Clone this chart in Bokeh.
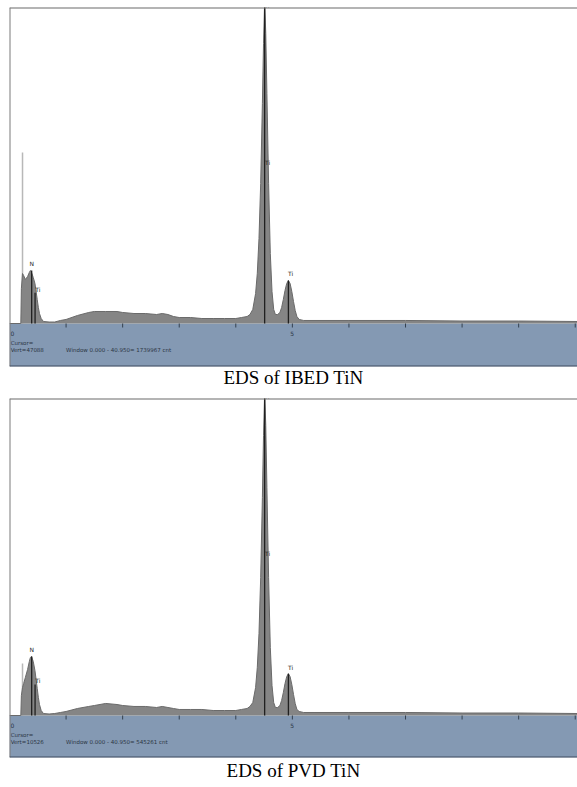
from bokeh.plotting import figure
from bokeh.layouts import column
from bokeh.models import Range1d, Span, Title, ColumnDataSource
from bokeh.core.properties import value
from bokeh.embed import file_html
from bokeh.resources import INLINE

# ---- spectrum data: energy (keV) and counts per channel ----
energy_kev = [0.00, 0.20, 0.21, 0.23, 0.25, 0.28, 0.32, 0.35, 0.37, 0.39, 0.42, 0.45, 0.47, 0.49,
              0.51, 0.53, 0.56, 0.60, 0.70, 0.80, 0.90, 1.00, 1.20, 1.40, 1.50, 1.70, 1.90, 2.00,
              2.20, 2.40, 2.60, 2.70, 2.80, 2.90, 3.00, 3.20, 3.40, 3.60, 3.80, 4.00, 4.10, 4.20,
              4.25, 4.30, 4.35, 4.38, 4.41, 4.44, 4.47, 4.49, 4.51, 4.53, 4.55, 4.58, 4.61, 4.64,
              4.67, 4.70, 4.74, 4.78, 4.81, 4.84, 4.87, 4.90, 4.93, 4.96, 4.99, 5.02, 5.05, 5.08,
              5.12, 5.20, 5.40, 6.00, 7.00, 8.00, 9.00, 10.04]

counts_ibed = [0, 0, 5200, 7450, 7150, 6560, 7000, 7600, 7900, 7600, 6850, 5960, 4770, 3580,
               2380, 1490, 745, 300, 220, 220, 450, 600, 1190, 1640, 1790, 1790, 1790, 1640,
               1490, 1490, 1340, 1490, 1340, 1040, 890, 890, 745, 745, 745, 745, 890, 1040,
               1340, 2090, 4470, 7450, 12670, 20860, 32780, 41720, 47980, 43210, 34270, 20860, 10430, 4770,
               2090, 1340, 1340, 1640, 2380, 3580, 4920, 5960, 6410, 5960, 4770, 3280, 1940, 1040,
               600, 450, 450, 450, 450, 370, 370, 300]

counts_pvd = [0, 0, 664, 930, 1060, 1260, 1530, 1790, 1930, 1960, 1790, 1490, 1200, 900,
              600, 365, 166, 66, 50, 66, 100, 133, 232, 300, 332, 400, 365, 332,
              300, 300, 266, 300, 266, 232, 200, 200, 200, 166, 166, 166, 200, 232,
              300, 430, 930, 1590, 2720, 4580, 7240, 9300, 10720, 9630, 7570, 4580, 2260, 1000,
              430, 266, 266, 332, 500, 760, 1060, 1290, 1390, 1290, 1030, 700, 400, 200,
              133, 100, 100, 100, 100, 83, 83, 66]

# vertical full scale of each display (counts)
full_scale_ibed = 47088
full_scale_pvd = 10526
total_ibed = 1739967
total_pvd = 545261

# line markers (keV) and their drawn heights
marker_kev = [0.392, 0.452, 4.51, 4.93]
marker_names = ["N", "Ti", "Ti", "Ti"]
marker_h_ibed = [7900, 4600, 47088, 6410]
marker_h_pvd = [1960, 1030, 10526, 1390]

# low-energy noise marker
noise_kev = 0.23
noise_h_ibed = 25480
noise_h_pvd = 1730

tick_kev = [1, 2, 3, 4, 5, 6, 7, 8, 9, 10]
tick_labels_kev = [0, 5]

X_MAX = 10.04
FRAME_H = 359
BAND = "#8499b3"
FILL = "#858585"
SMALL = value("DejaVu Sans")


def spectrum_panel(counts, full_scale, marker_h, noise_h, total, px_below, caption,
                   top_pad, bottom_pad, cap_align):
    px_above = FRAME_H - px_below
    y_start = -full_scale * px_below / px_above
    per_px = (full_scale - y_start) / FRAME_H

    p = figure(width=577, height=top_pad + FRAME_H + bottom_pad,
               x_range=Range1d(0, X_MAX), y_range=Range1d(y_start, full_scale),
               output_backend="svg", toolbar_location=None,
               min_border_left=9, min_border_right=0,
               min_border_top=top_pad, min_border_bottom=bottom_pad)
    p.axis.visible = False
    p.grid.visible = False
    p.outline_line_color = None
    p.background_fill_color = "white"
    p.border_fill_color = "white"

    # status band under the spectrum
    p.quad(left=0, right=X_MAX, bottom=y_start, top=0, fill_color=BAND, line_color=None)

    # low energy noise line
    p.segment(x0=[noise_kev], y0=[0], x1=[noise_kev], y1=[noise_h], line_color="#b8b8b8", line_width=1.5)

    # spectrum
    src = ColumnDataSource(dict(e=energy_kev, c=counts))
    p.varea(x="e", y1=0, y2="c", source=src, fill_color=FILL)
    p.line(x="e", y="c", source=src, line_color="#6a6a6a", line_width=1)

    # element markers
    p.segment(x0=marker_kev, y0=[0] * 4, x1=marker_kev, y1=marker_h, line_color="#202020", line_width=1.3)
    lab_x = [marker_kev[0], marker_kev[1] + 0.05, marker_kev[2] + 0.04, marker_kev[2] + 0.05, marker_kev[3] + 0.04]
    lab_y = [marker_h[0] + 3 * per_px, marker_h[1], full_scale - 1 * per_px, full_scale * 0.5, marker_h[3] + 3 * per_px]
    lab_t = [marker_names[0], marker_names[1], marker_names[2], marker_names[2], marker_names[3]]
    p.text(x=lab_x, y=lab_y, text=lab_t, text_font=SMALL, text_font_size="6px",
           text_color="#222222", text_align="center", text_baseline="bottom")

    # keV ticks in the band
    p.segment(x0=tick_kev, y0=[0] * len(tick_kev), x1=tick_kev, y1=[-4 * per_px] * len(tick_kev),
              line_color="#34404f", line_width=1)
    p.text(x=tick_labels_kev, y=[-7 * per_px] * 2, text=[str(t) for t in tick_labels_kev],
           text_font=SMALL, text_font_size="6px", text_color="#2c3644",
           text_align="left", text_baseline="top", x_offset=[1, -2])

    # cursor / window readouts
    p.text(x=[0.02, 0.02], y=[-19 * per_px, -26 * per_px],
           text=["Cursor=", "Vert=%d" % full_scale],
           text_font=SMALL, text_font_size="5.5px", text_color="#2c3644",
           text_align="left", text_baseline="middle")
    p.text(x=[1.0], y=[-26 * per_px],
           text=["Window 0.000 - 40.950=   %d cnt" % total],
           text_font=SMALL, text_font_size="5.5px", text_color="#2c3644",
           text_align="left", text_baseline="middle")

    # display frame edges
    p.add_layout(Span(location=full_scale, dimension="width", line_color="#6a6a6a", line_width=2))
    p.add_layout(Span(location=0, dimension="height", line_color="#7a7a7a", line_width=2))
    p.add_layout(Span(location=y_start, dimension="width", line_color="#3f4d60", line_width=2))

    p.add_layout(Title(text=caption, align="center", text_font="Liberation Serif",
                       text_font_size="19px", text_font_style="normal", text_color="black",
                       vertical_align=cap_align, standoff=0, offset=0), "below")
    return p


p1 = spectrum_panel(counts_ibed, full_scale_ibed, marker_h_ibed, noise_h_ibed, total_ibed,
                    43, "EDS of IBED TiN", 7, 25, "top")
p2 = spectrum_panel(counts_pvd, full_scale_pvd, marker_h_pvd, noise_h_pvd, total_pvd,
                    42, "EDS of PVD TiN", 7, 29, "bottom")

layout = column(p1, p2, spacing=0)
open("out.html", "w").write(file_html(layout, INLINE))
